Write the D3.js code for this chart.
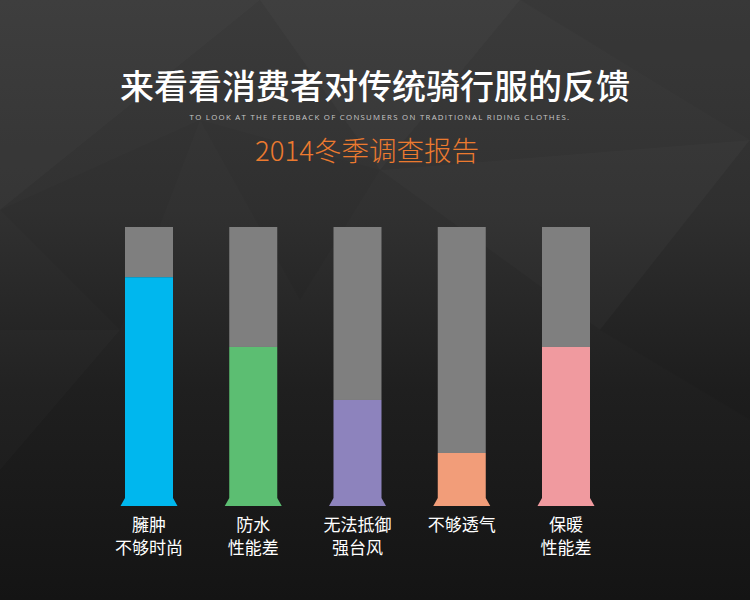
<!DOCTYPE html>
<html>
<head>
<meta charset="utf-8">
<script src="https://cdn.jsdelivr.net/npm/d3@7/dist/d3.min.js"></script>
<style>
  html, body { margin: 0; padding: 0; background: #1a1a1a; }
  svg { display: block; }
</style>
</head>
<body>
<svg id="chart" width="750" height="600"></svg>
<script>
// ---- data ----
const categories = ["臃肿不够时尚", "防水性能差", "无法抵御强台风", "不够透气", "保暖性能差"];
const labelLines = [["臃肿", "不够时尚"], ["防水", "性能差"], ["无法抵御", "强台风"], ["不够透气"], ["保暖", "性能差"]];
const values = [82, 57, 38, 19, 57];
const trackMax = 100;
const colors = ["#00b7ee", "#5cbe72", "#8d83bd", "#f29d79", "#f09a9f"];
const titleText = "来看看消费者对传统骑行服的反馈";
const subtitleEn = "TO LOOK AT THE FEEDBACK OF CONSUMERS ON TRADITIONAL RIDING CLOTHES.";
const reportText = "2014冬季调查报告";

const W = 750, H = 600;
const svg = d3.select("#chart");
const defs = svg.append("defs");

// background
const bg = defs.append("linearGradient").attr("id", "bg").attr("x1", 0).attr("y1", 0).attr("x2", 0).attr("y2", 1);
bg.append("stop").attr("offset", "0%").attr("stop-color", "#3b3b3b");
bg.append("stop").attr("offset", "35%").attr("stop-color", "#313131");
bg.append("stop").attr("offset", "65%").attr("stop-color", "#1f1f1f");
bg.append("stop").attr("offset", "100%").attr("stop-color", "#141414");
svg.append("rect").attr("width", W).attr("height", H).attr("fill", "url(#bg)");

// subtle faceted texture
const facets = [
  {pts: [[0,0],[260,0],[0,210]], c: "#ffffff", o: 0.02},
  {pts: [[260,0],[520,0],[380,170]], c: "#ffffff", o: 0.025},
  {pts: [[520,0],[750,0],[750,140]], c: "#000000", o: 0.035},
  {pts: [[0,210],[200,120],[120,330]], c: "#000000", o: 0.035},
  {pts: [[380,170],[750,140],[600,330]], c: "#ffffff", o: 0.015},
  {pts: [[200,120],[380,170],[300,300]], c: "#000000", o: 0.03},
  {pts: [[600,330],[750,140],[750,420]], c: "#000000", o: 0.035},
  {pts: [[0,330],[120,330],[0,470]], c: "#ffffff", o: 0.015}
];
svg.append("g").selectAll("path").data(facets).join("path")
  .attr("d", d => "M" + d.pts.map(p => p.join(",")).join("L") + "Z")
  .attr("fill", d => d.c).attr("fill-opacity", d => d.o);

// titles
const cjk = "'Noto Sans CJK SC', 'Noto Sans', sans-serif";
svg.append("text").attr("x", 375).attr("y", 99).attr("text-anchor", "middle")
  .attr("font-family", cjk).attr("font-weight", 500).attr("font-size", 34)
  .attr("fill", "#ffffff").text(titleText);
svg.append("text").attr("x", 380).attr("y", 120).attr("text-anchor", "middle")
  .attr("font-family", "'Open Sans', 'Noto Sans', sans-serif").attr("font-size", 7.8)
  .attr("letter-spacing", 1.3).attr("fill", "#c8c8c8").text(subtitleEn);
svg.append("text").attr("x", 367).attr("y", 161).attr("text-anchor", "middle")
  .attr("font-family", cjk).attr("font-weight", 300).attr("font-size", 27.5)
  .attr("fill", "#ec7a2f").text(reportText);

// scales
const x = d3.scalePoint().domain(categories).range([149, 566]);
const y = d3.scaleLinear().domain([0, trackMax]).range([506, 227]);
const barW = 48, flareH = 8, flareOut = 4.5;
const data = categories.map((c, i) => ({c, v: values[i], color: colors[i], lines: labelLines[i]}));

const g = svg.append("g");
const bars = g.selectAll("g.bar").data(data).join("g").attr("class", "bar");

// grey track
bars.append("rect")
  .attr("x", d => x(d.c) - barW / 2).attr("width", barW)
  .attr("y", y(trackMax)).attr("height", d => y(d.v) - y(trackMax))
  .attr("fill", "#7f7f7f");

// coloured value bar (body)
bars.append("rect")
  .attr("x", d => x(d.c) - barW / 2).attr("width", barW)
  .attr("y", d => y(d.v)).attr("height", d => y(0) - flareH - y(d.v))
  .attr("fill", d => d.color);

// flared base
bars.append("path")
  .attr("d", d => {
    const cx = x(d.c), b = y(0), t = b - flareH;
    return `M${cx - barW / 2},${t}L${cx + barW / 2},${t}L${cx + barW / 2 + flareOut},${b}L${cx - barW / 2 - flareOut},${b}Z`;
  })
  .attr("fill", d => d.color);

// labels
bars.append("text")
  .attr("text-anchor", "middle")
  .attr("font-family", cjk).attr("font-size", 17).attr("fill", "#ffffff")
  .selectAll("tspan").data(d => d.lines.map(l => ({l, cx: x(d.c)}))).join("tspan")
  .attr("x", t => t.cx).attr("y", (t, i) => 531 + i * 23).text(t => t.l);
</script>
</body>
</html>
